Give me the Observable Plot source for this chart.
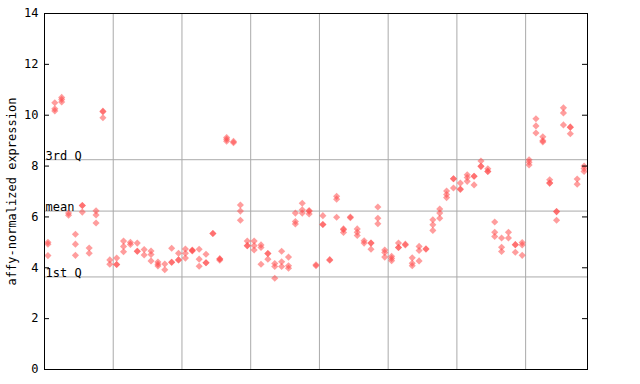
<!DOCTYPE html>
<html><head><meta charset="utf-8">
<script src="https://cdn.jsdelivr.net/npm/d3@7"></script>
<script src="https://cdn.jsdelivr.net/npm/@observablehq/plot@0.6"></script>
<style>body{margin:0;background:#fff} svg{display:block}</style>
</head><body><div id="chart"></div><script>
const replicateValues = [
 [5.0, 4.93, 4.48], [10.49, 10.25, 10.17], [10.7, 10.62, 10.52], [6.15, 6.07], [5.32, 4.93, 4.49],
 [6.45, 6.45, 6.19], [4.78, 4.57], [6.24, 6.08, 5.76], [10.16, 10.14, 9.9], [4.31, 4.14],
 [4.38, 4.13, 4.13], [5.05, 4.84, 4.63], [5.0, 4.92], [4.97, 4.65, 4.65], [4.72, 4.5],
 [4.66, 4.52, 4.27], [4.23, 4.14, 4.07], [4.15, 3.92], [4.77, 4.22, 4.22], [4.57, 4.31, 4.31],
 [4.74, 4.57, 4.38], [4.7, 4.68, 4.66], [4.73, 4.34, 4.06], [4.53, 4.2, 4.2], [5.35, 5.35],
 [4.35, 4.35, 4.3], [9.12, 9.05, 8.98], [8.97, 8.92], [6.47, 6.23, 5.87], [5.05, 4.87, 4.87],
 [5.05, 4.87, 4.70], [4.9, 4.8, 4.14], [4.56, 4.56, 4.34], [4.17, 4.05, 3.59], [4.65, 4.24, 4.05],
 [4.42, 4.08, 3.98], [6.15, 5.82, 5.72], [6.54, 6.28, 6.15], [6.25, 6.22, 6.12], [4.12, 4.08],
 [6.05, 5.7, 5.7], [4.32, 4.3], [6.81, 6.7, 5.99], [5.53, 5.5, 5.39], [6.0, 5.97],
 [5.53, 5.4, 5.27], [5.06, 4.97], [4.97, 4.97, 4.73], [6.39, 5.95, 5.73], [4.7, 4.6, 4.42],
 [4.45, 4.37, 4.28], [4.97, 4.8, 4.8], [4.93, 4.9], [4.39, 4.18, 4.08], [4.84, 4.68, 4.27],
 [4.75, 4.73], [5.89, 5.69, 5.47], [6.31, 6.15, 5.95], [7.02, 6.88, 6.76], [7.5, 7.5, 7.14],
 [7.33, 7.1, 7.08], [7.66, 7.55, 7.4], [7.6, 7.6, 7.26], [8.2, 7.99, 7.99], [7.89, 7.79, 7.79],
 [5.8, 5.4, 5.23], [5.17, 4.81, 4.64], [5.4, 5.17], [4.91, 4.91, 4.61], [4.99, 4.9, 4.49],
 [8.25, 8.15, 8.04], [9.86, 9.58, 9.3], [9.15, 9.0, 8.95], [7.46, 7.33, 7.33], [6.21, 6.21, 5.87],
 [10.29, 10.09, 9.62], [9.53, 9.53, 9.27], [7.49, 7.29], [8.0, 7.9, 7.79]
];
const refLabels = ["3rd Q", "mean", "1st Q"];
const refValues = [8.25, 6.23, 3.64];
const gridPositions = [10, 20, 30, 40, 50, 60, 70];
const yTicks = [0, 2, 4, 6, 8, 10, 12, 14];
const sampleCount = replicateValues.length;

const points = replicateValues.flatMap((vals, i) => vals.map(v => ({x: i + 0.5, v})));

const W = 640, ML = 44, MR = 53, TICK = 5;
const frameW = W - ML - MR;

const chart = Plot.plot({
  width: W, height: 384,
  marginLeft: ML, marginRight: MR, marginTop: 13, marginBottom: 15,
  style: {fontFamily: "'DejaVu Sans Mono', monospace", fontSize: "12px", background: "#fff", color: "#000"},
  x: {domain: [0, sampleCount], axis: null},
  y: {domain: [0, 14]},
  marks: [
    Plot.ruleX(gridPositions, {stroke: "#aaaaaa", strokeWidth: 1}),
    Plot.ruleY(refValues, {stroke: "#aaaaaa", strokeWidth: 1}),
    Plot.text(refLabels, {x: 0, y: (d, i) => refValues[i], text: d => d, textAnchor: "start", lineAnchor: "bottom", dx: 1, dy: 0, fill: "#000", fontSize: 12}),
    Plot.dot(points, {x: "x", y: "v", symbol: "diamond2", r: 3.2, fill: "#ff4d4d", fillOpacity: 0.55}),
    Plot.axisY(yTicks, {anchor: "left", tickSize: 0, tickPadding: 6, fontSize: 12, label: "affy-normalized expression", labelAnchor: "center", labelOffset: 37, labelArrow: "none"}),
    Plot.ruleY(yTicks, {stroke: "#000", insetRight: frameW - TICK}),
    Plot.ruleY(yTicks, {stroke: "#000", insetLeft: frameW - TICK}),
    Plot.frame({stroke: "#000"})
  ]
});
document.getElementById("chart").appendChild(chart);
</script></body></html>
